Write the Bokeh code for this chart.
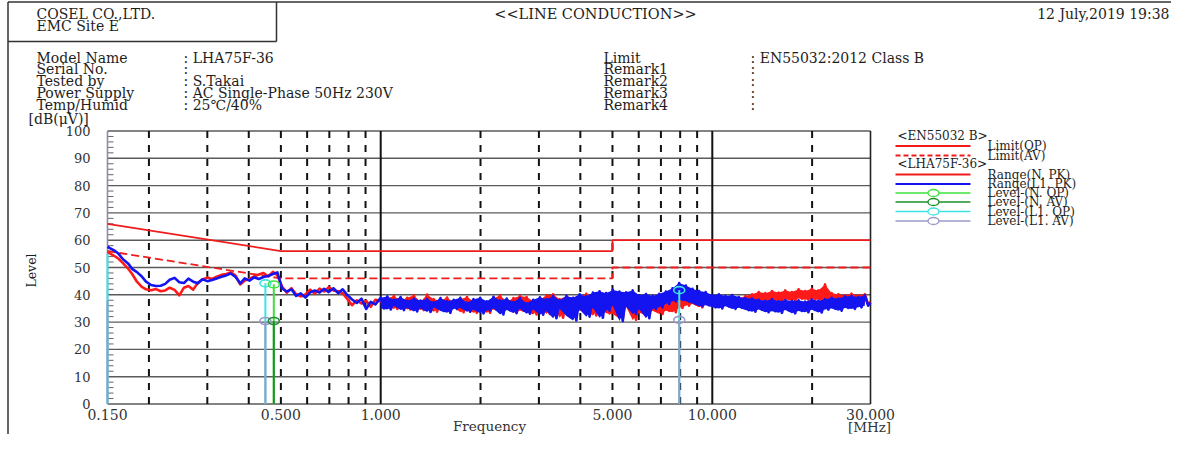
import math
from bokeh.plotting import figure
from bokeh.models import Range1d, LogScale, LinearScale
from bokeh.core.properties import value
from bokeh.embed import file_html
from bokeh.resources import INLINE

# ---------------- data ----------------
# 0.15 - 1 MHz sweep points
freq_low_mhz = [
    0.150, 0.152, 0.157, 0.162, 0.167, 0.173, 0.178, 0.184, 0.190, 0.196,
    0.203, 0.210, 0.217, 0.224, 0.231, 0.239, 0.247, 0.255, 0.263, 0.272,
    0.281, 0.290, 0.300, 0.310, 0.320, 0.331, 0.342, 0.353, 0.365, 0.377,
    0.389, 0.402, 0.415, 0.429, 0.443, 0.458, 0.473, 0.488, 0.504, 0.521,
    0.538, 0.556, 0.574, 0.593, 0.613, 0.633, 0.654, 0.675, 0.697, 0.720,
    0.744, 0.768, 0.794, 0.820, 0.847, 0.875, 0.904, 0.933, 0.964,
]
n_pk_low = [
    55.7, 55.3, 54.3, 53.2, 51.6, 49.6, 47.6, 44.8, 43.0, 42.0,
    41.7, 42.1, 41.3, 41.6, 42.6, 41.8, 39.8, 42.6, 43.2, 41.9,
    44.4, 45.6, 46.3, 45.8, 46.6, 47.3, 47.6, 48.2, 47.0, 43.8,
    45.2, 45.8, 46.7, 47.4, 48.0, 46.8, 48.4, 47.2, 43.0, 40.8,
    42.4, 40.2, 39.4, 40.1, 41.9, 40.4, 42.3, 41.2, 42.8, 41.6,
    41.3, 40.5, 38.4, 36.2, 38.0, 36.8, 37.8, 35.6, 38.2,
]
l1_pk_low = [
    57.6, 57.2, 56.3, 55.0, 53.0, 51.5, 49.5, 48.3, 46.8, 44.8,
    43.6, 43.2, 43.3, 44.0, 45.5, 46.2, 44.6, 44.3, 45.9, 44.8,
    44.2, 45.7, 45.0, 45.4, 46.0, 46.6, 47.1, 47.8, 46.5, 44.2,
    46.0, 45.2, 46.4, 45.8, 46.5, 46.9, 47.6, 48.2, 42.3, 41.2,
    42.0, 39.6, 40.5, 39.0, 40.9, 41.6, 40.8, 42.2, 41.0, 42.4,
    40.6, 42.0, 39.8, 38.3, 37.0, 38.6, 34.8, 37.4, 36.5,
]

# 1 - 30 MHz sweep points
freq_high_mhz = [
    1.000, 1.023, 1.047, 1.072, 1.096, 1.122, 1.148, 1.175, 1.202, 1.230,
    1.259, 1.288, 1.318, 1.349, 1.380, 1.413, 1.445, 1.479, 1.514, 1.549,
    1.585, 1.622, 1.660, 1.698, 1.738, 1.778, 1.820, 1.862, 1.905, 1.950,
    1.995, 2.042, 2.089, 2.138, 2.188, 2.239, 2.291, 2.344, 2.399, 2.455,
    2.512, 2.570, 2.630, 2.692, 2.754, 2.818, 2.884, 2.951, 3.020, 3.090,
    3.162, 3.236, 3.311, 3.388, 3.467, 3.548, 3.631, 3.715, 3.802, 3.890,
    3.981, 4.074, 4.169, 4.266, 4.365, 4.467, 4.571, 4.677, 4.786, 4.898,
    5.012, 5.129, 5.248, 5.370, 5.495, 5.623, 5.754, 5.888, 6.026, 6.166,
    6.310, 6.457, 6.607, 6.761, 6.918, 7.079, 7.244, 7.413, 7.586, 7.762,
    7.943, 8.128, 8.318, 8.511, 8.710, 8.913, 9.120, 9.333, 9.550, 9.772,
    10.00, 10.23, 10.47, 10.72, 10.96, 11.22, 11.48, 11.75, 12.02, 12.30,
    12.59, 12.88, 13.18, 13.49, 13.80, 14.13, 14.45, 14.79, 15.14, 15.49,
    15.85, 16.22, 16.60, 16.98, 17.38, 17.78, 18.20, 18.62, 19.05, 19.50,
    19.95, 20.42, 20.89, 21.38, 21.88, 22.39, 22.91, 23.44, 23.99, 24.55,
    25.12, 25.70, 26.30, 26.92, 27.54, 28.18, 28.84, 29.51, 30.00,
]
n_pk_high = [
    37.6, 36.4, 38.6, 35.8, 39.6, 34.8, 37.8, 36.2, 38.9, 34.6,
    39.8, 35.2, 37.4, 34.4, 40.1, 35.0, 38.4, 33.8, 37.8, 35.6,
    39.0, 34.2, 37.2, 35.4, 38.4, 33.6, 39.2, 34.6, 37.6, 33.4,
    38.4, 34.2, 36.8, 33.4, 38.6, 34.6, 39.8, 33.6, 37.4, 35.2,
    38.8, 33.4, 39.6, 34.2, 39.2, 33.8, 37.6, 32.8, 38.2, 35.4,
    39.8, 33.0, 40.2, 35.6, 38.4, 31.6, 39.6, 35.2, 38.8, 33.4,
    39.2, 34.2, 40.4, 33.8, 39.6, 32.4, 40.0, 35.0, 40.6, 33.2,
    40.4, 33.0, 39.6, 31.2, 38.4, 35.6, 39.2, 30.8, 38.6, 33.4,
    38.8, 32.6, 39.4, 34.2, 38.6, 33.0, 39.4, 34.2, 40.2, 33.6,
    41.6, 35.2, 40.8, 36.0, 40.2, 36.6, 39.6, 35.4, 40.2, 36.4,
    38.8, 36.2, 39.4, 36.0, 38.6, 36.6, 39.2, 35.8, 38.6, 36.2,
    39.6, 37.0, 40.2, 37.6, 41.0, 38.0, 40.6, 37.8, 41.4, 38.2,
    40.8, 37.6, 41.6, 38.4, 41.0, 37.8, 42.0, 38.6, 41.4, 38.2,
    42.2, 38.4, 41.6, 38.2, 43.8, 37.6, 40.6, 36.8, 40.2, 36.4,
    39.8, 36.8, 40.4, 36.2, 39.8, 37.0, 40.2, 36.6, 37.4,
]
l1_pk_high = [
    38.9, 35.0, 39.4, 34.6, 38.2, 35.9, 39.2, 34.4, 37.8, 35.2,
    38.6, 33.9, 37.9, 35.0, 38.5, 33.7, 37.3, 35.4, 38.8, 34.1,
    37.6, 33.4, 38.2, 34.8, 38.9, 35.2, 37.1, 33.8, 38.4, 34.5,
    38.9, 33.2, 37.6, 34.2, 39.3, 35.0, 37.9, 32.8, 38.6, 34.4,
    37.4, 33.3, 38.8, 34.9, 36.9, 33.1, 38.2, 34.6, 39.1, 32.7,
    38.4, 34.0, 39.5, 31.4, 38.0, 34.8, 39.6, 32.2, 38.9, 30.6,
    40.2, 34.6, 39.4, 32.0, 40.8, 35.2, 41.3, 31.6, 40.6, 34.2,
    41.8, 36.0, 41.2, 30.4, 40.9, 35.6, 41.6, 33.0, 39.8, 34.6,
    40.3, 31.4, 39.6, 34.8, 40.4, 35.4, 41.2, 36.6, 42.4, 37.6,
    44.3, 38.2, 43.4, 37.6, 42.2, 36.8, 41.4, 35.8, 41.0, 36.2,
    39.8, 35.4, 40.2, 35.0, 39.6, 35.8, 39.9, 34.8, 39.2, 35.3,
    38.8, 34.4, 38.6, 33.8, 38.2, 34.6, 37.8, 33.6, 38.4, 34.0,
    37.6, 33.4, 38.1, 34.4, 37.7, 33.2, 38.0, 34.1, 37.5, 33.6,
    38.3, 34.5, 37.8, 33.5, 38.4, 34.6, 38.9, 35.0, 38.6, 34.2,
    39.4, 35.2, 39.6, 34.8, 39.2, 35.4, 39.7, 36.0, 37.2,
]

# EN55032 class B limits
limit_f = [0.15, 0.5, 5.0, 5.0, 30.0]
limit_qp = [66, 56, 56, 60, 60]
limit_av = [56, 46, 46, 50, 50]

# final measurement levels
n_qp_f = [0.476]
n_qp_dbuv = [43.8]
n_av_f = [0.476]
n_av_dbuv = [30.4]
l1_qp_f = [0.150, 0.449, 7.95]
l1_qp_dbuv = [55.0, 44.2, 41.7]
l1_av_f = [0.150, 0.449, 7.95]
l1_av_dbuv = [38.0, 30.4, 30.8]

y_ticks = [0, 10, 20, 30, 40, 50, 60, 70, 80, 90, 100]
x_tick_f = [0.15, 0.5, 1.0, 5.0, 10.0, 30.0]
x_tick_labels = ["0.150", "0.500", "1.000", "5.000", "10.000", "30.000"]
major_f = [1.0, 10.0]
dashed_f = [0.2, 0.3, 0.4, 0.5, 0.6, 0.7, 0.8, 0.9,
            2.0, 3.0, 4.0, 5.0, 6.0, 7.0, 8.0, 9.0, 20.0]

info_labels = ["Model Name", "Serial No.", "Tested by", "Power Supply", "Temp/Humid"]
info_values = [": LHA75F-36", ":", ": S.Takai", ": AC Single-Phase 50Hz 230V", ": 25\u2103/40%"]
info2_labels = ["Limit", "Remark1", "Remark2", "Remark3", "Remark4"]
info2_values = [": EN55032:2012 Class B", ":", ":", ":", ":"]

freq_mhz = freq_low_mhz + freq_high_mhz
n_pk_dbuv = n_pk_low + n_pk_high
l1_pk_dbuv = l1_pk_low + l1_pk_high


def peak_min_band(f, v):
    """min/max of each adjacent pair of sweep points (dense peak-detector band)."""
    xs, lo, hi = [], [], []
    for i in range(0, len(f) - 1, 2):
        xs.append(f[i])
        lo.append(min(v[i], v[i + 1]))
        hi.append(max(v[i], v[i + 1]))
    return xs, lo, hi


# ---------------- layout ----------------
W, H = 1171, 434
X0, X1 = 0, W
Y0, Y1 = 0, H
PX_L, PX_R = 107.0, 870.0  # plot area in pixels
PY_T, PY_B = 130.5, 403.5
F_MIN, F_MAX = 0.15, 30.0
DB_MIN, DB_MAX = 0.0, 100.0

dec_per_px = (math.log10(F_MAX) - math.log10(F_MIN)) / (PX_R - PX_L)
f_lo = 10 ** (math.log10(F_MIN) - (PX_L - X0) * dec_per_px)
f_hi = 10 ** (math.log10(F_MAX) + (X1 - PX_R) * dec_per_px)
db_per_px = (DB_MAX - DB_MIN) / (PY_B - PY_T)
db_lo = DB_MIN - (Y1 - PY_B) * db_per_px
db_hi = DB_MAX + (PY_T - Y0) * db_per_px

p = figure(width=W, height=H, x_range=Range1d(X0, X1), y_range=Range1d(Y1, Y0),
           x_axis_type=None, y_axis_type=None, output_backend="svg",
           toolbar_location=None, min_border=0)
p.outline_line_color = None
p.background_fill_color = "white"
p.border_fill_color = "white"
p.extra_x_ranges = {"f": Range1d(f_lo, f_hi)}
p.extra_x_scales = {"f": LogScale()}
p.extra_y_ranges = {"db": Range1d(db_lo, db_hi)}
p.extra_y_scales = {"db": LinearScale()}
D = dict(x_range_name="f", y_range_name="db")

SERIF = value("DejaVu Serif")
TXT = "#1e1e1e"


def txt(x, y, s, size=14, align="left", color=TXT, **kw):
    p.text(x=[x], y=[y], text=[s], text_font=SERIF, text_font_size=value(f"{size}px"),
           text_align=align, text_baseline="middle", text_color=color, **kw)


RED = "#f01c1c"
TRACE_RED = "#ff1a1a"
BLUE = "#1414f0"
LIME = "#3ee03e"
DGREEN = "#1f8f2a"
CYAN = "#3fe3e3"
SLATE = "#9a9ac8"

# ---- grid ----
n = len(y_ticks)
p.segment(x0=[F_MIN] * n, y0=y_ticks, x1=[F_MAX] * n, y1=y_ticks, line_color="#5a5a5a",
          line_width=1.4, **D)
nd = len(dashed_f)
p.segment(x0=dashed_f, y0=[DB_MIN] * nd, x1=dashed_f, y1=[DB_MAX] * nd,
          line_color="#111111", line_width=2, line_dash="7 7", **D)
nm = len(major_f)
p.segment(x0=major_f, y0=[DB_MIN] * nm, x1=major_f, y1=[DB_MAX] * nm,
          line_color="#111111", line_width=2, **D)
minor_db = [v for v in range(2, 100, 2) if v % 10 != 0]
p.segment(x0=[PX_L] * len(minor_db), x1=[PX_L + 6] * len(minor_db), y0=minor_db, y1=minor_db,
          line_color="#666666", line_width=1, y_range_name="db")
p.segment(x0=[F_MIN, F_MAX], y0=[DB_MIN, DB_MIN], x1=[F_MIN, F_MAX], y1=[DB_MAX, DB_MAX],
          line_color=["#8c8cb0", "#222222"], line_width=1.6, **D)

# ---- limits ----
p.line(limit_f, limit_qp, line_color=RED, line_width=1.8, **D)
p.line(limit_f, limit_av, line_color=RED, line_width=1.8, line_dash="8 4", **D)

# ---- traces ----
for v_all, v_high, col in [(n_pk_dbuv, n_pk_high, TRACE_RED), (l1_pk_dbuv, l1_pk_high, BLUE)]:
    bx, blo, bhi = peak_min_band(freq_high_mhz, v_high)
    p.varea(x=bx, y1=blo, y2=bhi, fill_color=col, **D)
    p.line(freq_mhz, v_all, line_color=col, line_width=2.6, line_join="round", **D)

# ---- level markers ----
markers = [(l1_qp_f, l1_qp_dbuv, CYAN), (n_qp_f, n_qp_dbuv, LIME),
           (l1_av_f, l1_av_dbuv, SLATE), (n_av_f, n_av_dbuv, DGREEN)]
for fs, ls, col in markers:
    p.segment(x0=fs, y0=[DB_MIN] * len(fs), x1=fs, y1=ls, line_color=col, line_width=2, **D)
for fs, ls, col in markers:
    # markers sitting on the frame edge are clipped away in the original
    xs = [f for f in fs if f > F_MIN]
    ys = [l for f, l in zip(fs, ls) if f > F_MIN]
    p.ellipse(x=xs, y=ys, width=11, height=7, width_units="screen", height_units="screen",
              fill_color=None, line_color=col, line_width=1.6, **D)

# ---- axis labels ----
p.text(x=[PX_L - 17] * n, y=y_ticks, text=[str(v) for v in y_ticks], text_font=SERIF,
       text_font_size=value("13px"), text_align="right", text_baseline="middle",
       text_color="#333333", y_range_name="db")
p.text(x=x_tick_f, y=[414] * len(x_tick_f), text=x_tick_labels, text_font=SERIF,
       text_font_size=value("14px"), text_align="center", text_baseline="middle",
       text_color="#333333", x_range_name="f")
txt(489, 425, "Frequency", 13.5, "center", "#333333")
txt(869, 426, "[MHz]", 13.5, "center", "#333333")
txt(28, 118, "[dB(\u03bcV)]", 14, "left")
p.text(x=[31], y=[270], text=["Level"], text_font=SERIF, text_font_size=value("12.5px"),
       text_align="center", text_baseline="middle", text_color=TXT, angle=math.pi / 2)

# ---- header frame ----
p.segment(x0=[7.5, 7.5, 276, 7.5], y0=[1.5, 1.5, 1.5, 41], x1=[W, 7.5, 276, 276],
          y1=[1.5, H, 41, 41], line_color="#333333", line_width=1.5)
txt(36, 13, "COSEL CO.,LTD.", 14)
txt(36, 25, "EMC Site E", 14)
txt(595, 13, "<<LINE CONDUCTION>>", 14.5, "center")
txt(1169, 13, "12 July,2019 19:38", 14, "right")
info_y = [57, 68.5, 80, 92, 104]
for yy, a, b in zip(info_y, info_labels, info_values):
    txt(36, yy, a, 14)
    txt(183, yy, b, 14)
for yy, a, b in zip(info_y, info2_labels, info2_values):
    txt(603, yy, a, 14)
    txt(750, yy, b, 14)

# ---- legend ----
LX0, LX1, LXC, LXT = 895, 970, 933, 987
txt(897, 135, "<EN55032 B>", 12)
txt(897, 163, "<LHA75F-36>", 12)
legend_items = [
    (145.5, RED, None, False, "Limit(QP)"),
    (155.0, RED, "5 3", False, "Limit(AV)"),
    (174.0, RED, None, False, "Range(N. PK)"),
    (183.5, BLUE, None, False, "Range(L1. PK)"),
    (192.5, LIME, None, True, "Level-(N. QP)"),
    (201.5, DGREEN, None, True, "Level-(N. AV)"),
    (211.0, CYAN, None, True, "Level-(L1. QP)"),
    (220.5, SLATE, None, True, "Level-(L1. AV)"),
]
for yy, col, dash, circ, lab in legend_items:
    kw = dict(line_dash=dash) if dash else {}
    p.segment(x0=[LX0], y0=[yy], x1=[LX1], y1=[yy], line_color=col,
              line_width=2 if not circ else 1.3, **kw)
    if circ:
        p.ellipse(x=[LXC], y=[yy], width=11, height=7, width_units="screen",
                  height_units="screen", fill_color="white", line_color=col, line_width=1.3)
    txt(LXT, yy, lab, 12)

open("out.html", "w").write(file_html(p, INLINE))
